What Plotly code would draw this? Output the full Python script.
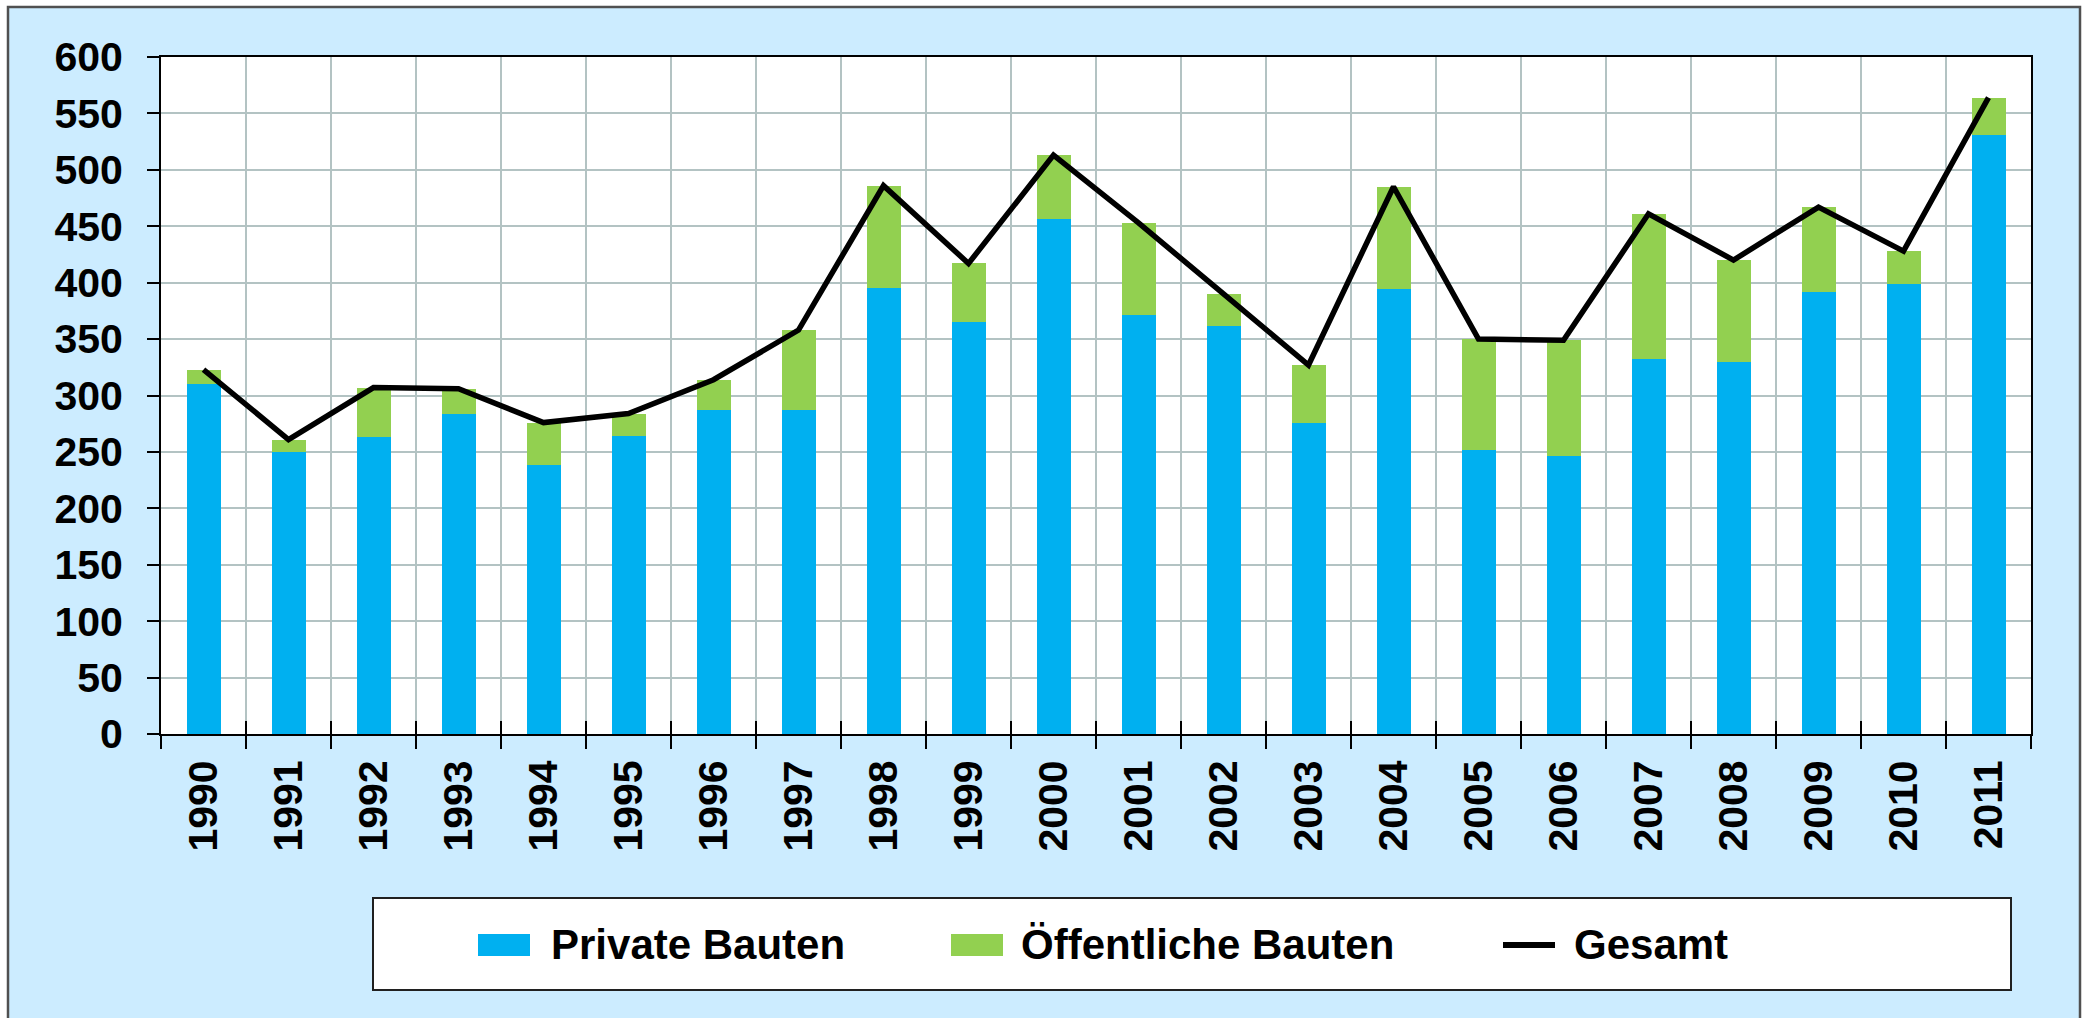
import plotly.graph_objects as go

years = ["1990", "1991", "1992", "1993", "1994", "1995", "1996", "1997", "1998", "1999", "2000",
         "2001", "2002", "2003", "2004", "2005", "2006", "2007", "2008", "2009", "2010", "2011"]
private = [310, 250, 263, 284, 238, 264, 287, 287, 395, 365, 456, 371, 362, 276, 394, 252, 246, 332, 330, 392, 399, 531]
public = [13, 11, 44, 22, 38, 20, 27, 71, 91, 52, 57, 82, 28, 51, 91, 98, 103, 129, 90, 75, 29, 33]
gesamt = [323, 261, 307, 306, 276, 284, 314, 358, 486, 417, 513, 453, 390, 327, 485, 350, 349, 461, 420, 467, 428, 564]
y_ticks = [0, 50, 100, 150, 200, 250, 300, 350, 400, 450, 500, 550, 600]
names = ["Private Bauten", "Öffentliche Bauten", "Gesamt"]

BLUE = "#00B0F0"
GREEN = "#92D050"
BG = "#CCECFF"
GRID = "#B3C3C3"
FONT = "Liberation Sans, Arial, sans-serif"

W, H = 2083, 1018
L, R, T, B = 161, 52, 57, 284
PW, PH = W - L - R, H - T - B


def px(x):
    return (x - L) / PW


def py(y):
    return (H - B - y) / PH


fig = go.Figure()
fig.add_trace(go.Bar(x=years, y=private, name=names[0], marker=dict(color=BLUE, line=dict(width=0))))
fig.add_trace(go.Bar(x=years, y=public, name=names[1], marker=dict(color=GREEN, line=dict(width=0))))
fig.add_trace(go.Scatter(x=years, y=gesamt, name=names[2], mode="lines",
                         line=dict(color="black", width=5.5)))
# helper trace for inner half of the crossing x ticks
fig.add_trace(go.Scatter(x=years, y=gesamt, xaxis="x2", mode="markers",
                         marker=dict(opacity=0), hoverinfo="skip", showlegend=False))

shapes = [
    # outer chart box
    dict(type="rect", xref="paper", yref="paper", x0=px(8), x1=px(2080), y0=py(1030), y1=py(7),
         fillcolor=BG, line=dict(color="#505050", width=2.5), layer="below"),
    # white plot area
    dict(type="rect", xref="paper", yref="paper", x0=0, x1=1, y0=0, y1=1,
         fillcolor="white", line=dict(width=0), layer="below"),
    # legend box
    dict(type="rect", xref="paper", yref="paper", x0=px(373), x1=px(2011), y0=py(990), y1=py(898),
         fillcolor="white", line=dict(color="#202020", width=2)),
    dict(type="rect", xref="paper", yref="paper", x0=px(478), x1=px(530), y0=py(956), y1=py(934),
         fillcolor=BLUE, line=dict(width=0)),
    dict(type="rect", xref="paper", yref="paper", x0=px(951), x1=px(1003), y0=py(956), y1=py(934),
         fillcolor=GREEN, line=dict(width=0)),
    dict(type="line", xref="paper", yref="paper", x0=px(1503), x1=px(1555), y0=py(945), y1=py(945),
         line=dict(color="black", width=6)),
]

annotations = []
for name, xpos in zip(names, [549, 1019, 1572]):
    annotations.append(dict(text=name, xref="paper", yref="paper", x=px(xpos), y=py(944),
                            xanchor="left", yanchor="middle", showarrow=False,
                            font=dict(family=FONT, size=42, color="black", weight="bold")))

fig.update_layout(
    width=W, height=H,
    margin=dict(l=L, r=R, t=T, b=B, pad=0),
    paper_bgcolor="white",
    plot_bgcolor="white",
    barmode="stack",
    bargap=0.6,
    showlegend=False,
    font=dict(family=FONT, size=41, color="black", weight="bold"),
    shapes=shapes,
    annotations=annotations,
    xaxis=dict(
        type="category", categoryorder="array", categoryarray=years, range=[-0.5, 21.5],
        tickson="boundaries", ticks="outside", ticklen=13, tickwidth=2, tickcolor="black",
        tickangle=-90, ticklabelstandoff=8,
        tickfont=dict(family=FONT, size=41, color="black", weight="bold"),
        showgrid=True, gridcolor=GRID, gridwidth=1.5,
        showline=True, linecolor="black", linewidth=2, mirror=True,
    ),
    xaxis2=dict(
        type="category", categoryorder="array", categoryarray=years, range=[-0.5, 21.5],
        overlaying="x", side="bottom", anchor="y",
        tickson="boundaries", ticks="inside", ticklen=13, tickwidth=2, tickcolor="black",
        showticklabels=False, showgrid=False, showline=False, zeroline=False,
    ),
    yaxis=dict(
        range=[0, 600], tickvals=y_ticks, ticks="outside", ticklen=12, tickwidth=2, tickcolor="black",
        ticklabelstandoff=16,
        tickfont=dict(family=FONT, size=41, color="black", weight="bold"),
        showgrid=True, gridcolor=GRID, gridwidth=1.5, zeroline=False,
        showline=True, linecolor="black", linewidth=2, mirror=True,
    ),
)

fig.write_html("out.html", config={"displayModeBar": False},
               post_script="document.body.style.margin='0px';")
